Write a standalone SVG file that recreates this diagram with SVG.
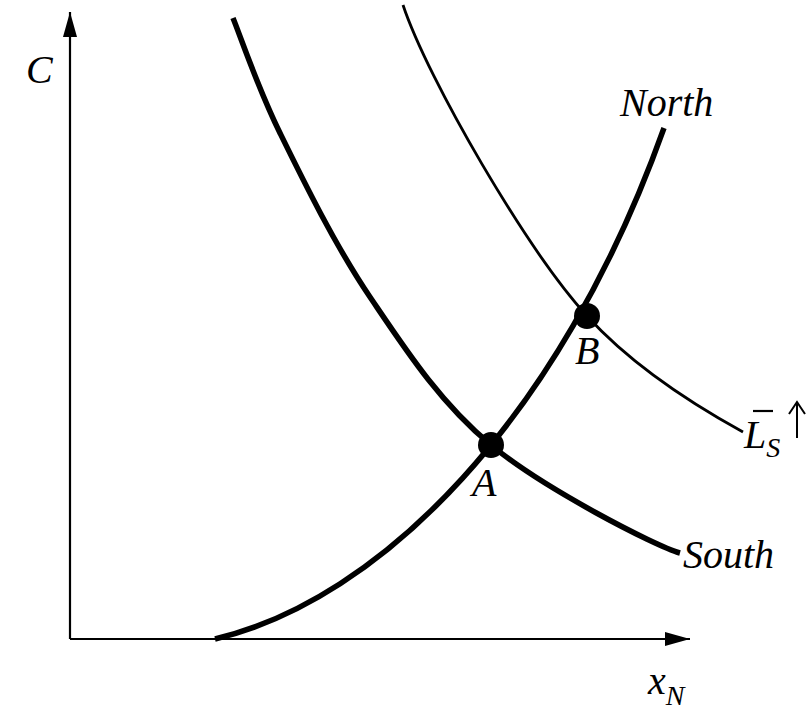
<svg xmlns="http://www.w3.org/2000/svg" width="810" height="713" viewBox="0 0 810 713">
<style>
.t{font-family:"Liberation Serif","Times New Roman",serif;font-style:italic;font-size:40px;fill:#000}
.s{font-size:28px}
.thick{fill:none;stroke:#000;stroke-width:5.5}
.thin{fill:none;stroke:#000;stroke-width:2.8}
.ax{fill:none;stroke:#000;stroke-width:2.2}
</style>
<defs>
<marker id="ah" markerWidth="26" markerHeight="16" refX="25" refY="7" orient="auto" markerUnits="userSpaceOnUse">
<path d="M0,0 L25,7 L0,14 Z" fill="#000"/>
</marker>
</defs>
<rect width="810" height="713" fill="#fff"/>
<g id="axes">
<line class="ax" x1="70" y1="639" x2="70" y2="12" marker-end="url(#ah)"/>
<line class="ax" x1="70" y1="639" x2="690" y2="639" marker-end="url(#ah)"/>
</g>
<g id="connectors">
<path id="south" class="thick" d="M233,18 C240.8,37.2 257.2,86.5 280,133 C302.8,179.5 334.8,245 370,297 C405.2,349 439.3,402 491,445 C542.7,488 655,546 680,553"/>
<path id="north" class="thick" d="M215,639 C380,600 560,420 664,128"/>
<path id="ls" class="thin" d="M403,5 C428,80 527,250 587,316 C637,371 703,410 743,432"/>
</g>
<g id="pointA"><circle cx="491" cy="445" r="13"/><text class="t" x="472" y="496">A</text></g>
<g id="pointB"><circle cx="587" cy="316" r="13"/><text class="t" x="575" y="364">B</text></g>
<g id="labels">
<text class="t" x="26" y="83">C</text>
<text class="t" x="620" y="116">North</text>
<text class="t" x="683" y="568">South</text>
<text class="t" x="648" y="694">x<tspan class="s" dy="11">N</tspan></text>
<text class="t" x="744" y="448">L<tspan class="s" dy="9">S</tspan></text>
<line x1="753" y1="411" x2="773" y2="411" stroke="#000" stroke-width="2.2"/>
<path d="M797,438 V404 M789,414 L797,402 L805,414" fill="none" stroke="#000" stroke-width="2"/>
</g>
</svg>
